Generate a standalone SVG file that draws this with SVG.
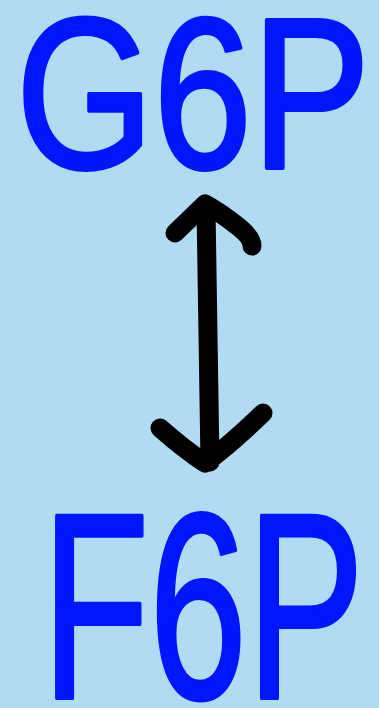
<svg xmlns="http://www.w3.org/2000/svg" width="379" height="708" viewBox="0 0 379 708">
<style>
.lbl{font-family:"Liberation Sans","DejaVu Sans",Arial,sans-serif;font-weight:normal;fill:#0016ff;stroke:#0016ff;stroke-linejoin:round;stroke-width:4}
.conn{fill:none;stroke:#000;stroke-width:19;stroke-linecap:round;stroke-linejoin:round}
</style>
<rect width="379" height="708" fill="#b1dbf2"/>
<g id="g6p">
<text class="lbl" x="16" y="168" font-size="215" textLength="354" lengthAdjust="spacingAndGlyphs">G6P</text>
</g>
<g id="f6p">
<text class="lbl" x="42" y="698" font-size="265" textLength="322" lengthAdjust="spacingAndGlyphs">F6P</text>
</g>
<g id="connectors">
<path class="conn" d="M206 208 L210 462"/>
<path class="conn" d="M175 233 L205 204 Q220 212 240 228 Q252 238 252 246"/>
<path class="conn" d="M160 428 Q185 450 205 463 Q230 445 263 413"/>
</g>
</svg>
